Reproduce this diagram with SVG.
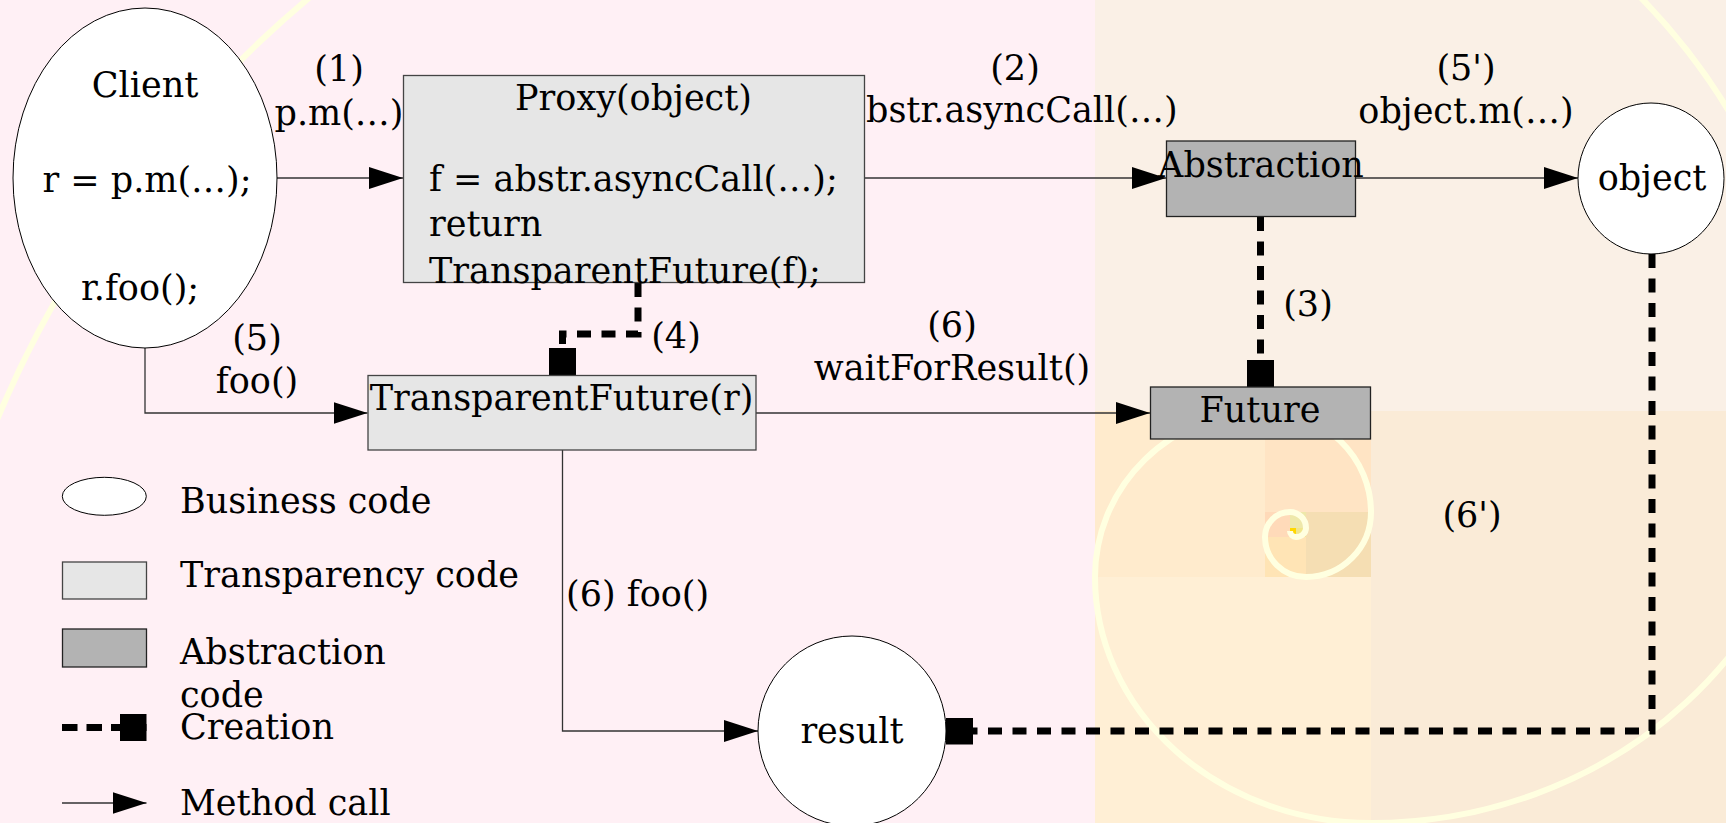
<svg xmlns="http://www.w3.org/2000/svg" width="1726" height="823" viewBox="0 0 1726 823">
  <defs>
    <style>
      text { font-family: "DejaVu Serif", "Liberation Serif", serif; font-size: 35px; fill: #000; }
      .mid { text-anchor: middle; }
      .call { fill: none; stroke: #333; stroke-width: 1.3; }
      .create { fill: none; stroke: #000; stroke-width: 7; stroke-dasharray: 14 10.5; }
      .business { fill: #fff; stroke: #000; stroke-width: 1; }
      .transp { fill: #e6e6e6; stroke: #444; stroke-width: 1.3; }
      .abstr { fill: #b3b3b3; stroke: #222; stroke-width: 1.3; }
      .spiral { fill: none; stroke: #ffffe0; stroke-width: 6; }
    </style>
    <marker id="arrow" markerUnits="userSpaceOnUse" viewBox="0 0 34 22" refX="34" refY="11" markerWidth="34" markerHeight="22" orient="auto">
      <path d="M0,0 L34,11 L0,22 z" fill="#000"/>
    </marker>
    <marker id="square" markerUnits="userSpaceOnUse" viewBox="0 0 27 27" refX="27" refY="13.5" markerWidth="27" markerHeight="27" orient="auto">
      <rect x="0" y="0" width="27" height="27" fill="#000"/>
    </marker>
  </defs>

  <!-- golden-section backdrop -->
  <g id="backdrop">
    <rect x="0" y="0" width="1095" height="823" fill="#fff0f5"/>
    <rect x="1095" y="0" width="631" height="411" fill="#faf0e6"/>
    <rect x="1371" y="411" width="355" height="412" fill="#faebd7"/>
    <rect x="1095" y="577" width="276" height="246" fill="#ffefd5"/>
    <rect x="1095" y="411" width="170" height="166" fill="#ffebcd"/>
    <rect x="1265" y="411" width="106" height="101" fill="#ffe4c4"/>
    <rect x="1306" y="512" width="65" height="65" fill="#f5deb3"/>
    <rect x="1265" y="537" width="41" height="40" fill="#ffe4b5"/>
    <rect x="1265" y="512" width="25" height="25" fill="#ffdab9"/>
    <rect x="1290" y="512" width="16" height="16" fill="#eee8aa"/>
    <rect x="1296" y="528" width="10" height="9" fill="#f0e68c"/>
    <rect x="1290" y="528" width="6" height="6" fill="#ffd700"/>
    <path class="spiral" d="M-84,823 A1179,1107 0 0 1 1095,-284"/>
    <path class="spiral" d="M1095,-224 A719,635 0 0 1 1814,411"/>
    <path class="spiral" d="M1817,411 A446,412 0 0 1 1371,823 A276,246 0 0 1 1095,577 A170,166 0 0 1 1265,411 A106,101 0 0 1 1371,512 A65,65 0 0 1 1306,577 A41,40 0 0 1 1265,537 A25,25 0 0 1 1290,512 A16,16 0 0 1 1306,528 A10,9 0 0 1 1296,537 A6,6 0 0 1 1290,531"/>
  </g>

  <!-- connectors -->
  <g id="connectors">
    <path class="call" d="M277,178 H403" marker-end="url(#arrow)"/>
    <path class="call" d="M864.5,178 H1166" marker-end="url(#arrow)"/>
    <path class="call" d="M1355.5,178 H1578" marker-end="url(#arrow)"/>
    <path class="call" d="M145,348 V413 H367.5" marker-end="url(#arrow)"/>
    <path class="call" d="M756,413 H1150" marker-end="url(#arrow)"/>
    <path class="call" d="M562.5,450 V731 H758" marker-end="url(#arrow)"/>
    <path class="create" d="M638,283 V334 H562.5 V375" marker-end="url(#square)"/>
    <path class="create" d="M1260.5,217 V387" marker-end="url(#square)"/>
    <path class="create" d="M1652,254 V731 H946" marker-end="url(#square)"/>

    <text class="mid" x="339" y="81">(1)</text>
    <text class="mid" x="339" y="125">p.m(…)</text>
    <text class="mid" x="1015" y="80">(2)</text>
    <text x="866" y="122">bstr.asyncCall(…)</text>
    <text class="mid" x="1308" y="316">(3)</text>
    <text class="mid" x="676" y="348">(4)</text>
    <text class="mid" x="257" y="350">(5)</text>
    <text class="mid" x="257" y="393">foo()</text>
    <text class="mid" x="1466" y="80">(5')</text>
    <text class="mid" x="1466" y="123">object.m(…)</text>
    <text class="mid" x="952" y="337">(6)</text>
    <text class="mid" x="952" y="380">waitForResult()</text>
    <text x="566" y="606">(6) foo()</text>
    <text class="mid" x="1472" y="527">(6')</text>
  </g>

  <g id="client">
    <ellipse class="business" cx="145" cy="178" rx="132" ry="170"/>
    <text class="mid" x="145" y="97">Client</text>
    <text class="mid" x="147" y="192">r = p.m(…);</text>
    <text class="mid" x="140" y="300">r.foo();</text>
  </g>

  <g id="proxy">
    <rect class="transp" x="403.5" y="75.5" width="461" height="207"/>
    <text class="mid" x="633.5" y="110">Proxy(object)</text>
    <text x="429" y="191">f = abstr.asyncCall(…);</text>
    <text x="429" y="236">return</text>
    <text x="429" y="283">TransparentFuture(f);</text>
  </g>

  <g id="abstraction">
    <rect class="abstr" x="1166.5" y="141" width="189" height="75.5"/>
    <text class="mid" x="1261" y="177">Abstraction</text>
  </g>

  <g id="object">
    <ellipse class="business" cx="1651" cy="178.5" rx="73" ry="75.5"/>
    <text class="mid" x="1652" y="190">object</text>
  </g>

  <g id="transparent-future">
    <rect class="transp" x="368" y="375.5" width="388" height="74.5"/>
    <text class="mid" x="561.5" y="410">TransparentFuture(r)</text>
  </g>

  <g id="future">
    <rect class="abstr" x="1150.5" y="387" width="220" height="52"/>
    <text class="mid" x="1260" y="422">Future</text>
  </g>

  <g id="result">
    <ellipse class="business" cx="852" cy="731" rx="94" ry="95"/>
    <text class="mid" x="852" y="743">result</text>
  </g>

  <!-- key -->
  <g id="legend">
    <ellipse class="business" cx="104.3" cy="496.3" rx="42" ry="19"/>
    <text x="180" y="513">Business code</text>
    <rect class="transp" x="62.5" y="562" width="84" height="37"/>
    <text x="180" y="587">Transparency code</text>
    <rect class="abstr" x="62.5" y="629" width="84" height="38"/>
    <text x="180" y="664">Abstraction</text>
    <text x="180" y="707">code</text>
    <path class="create" d="M62,727.5 H146.5" style="stroke-dasharray: 15.5 9" marker-end="url(#square)"/>
    <text x="180" y="739">Creation</text>
    <path class="call" d="M62,803 H146.5" marker-end="url(#arrow)"/>
    <text x="180" y="815">Method call</text>
  </g>
</svg>
